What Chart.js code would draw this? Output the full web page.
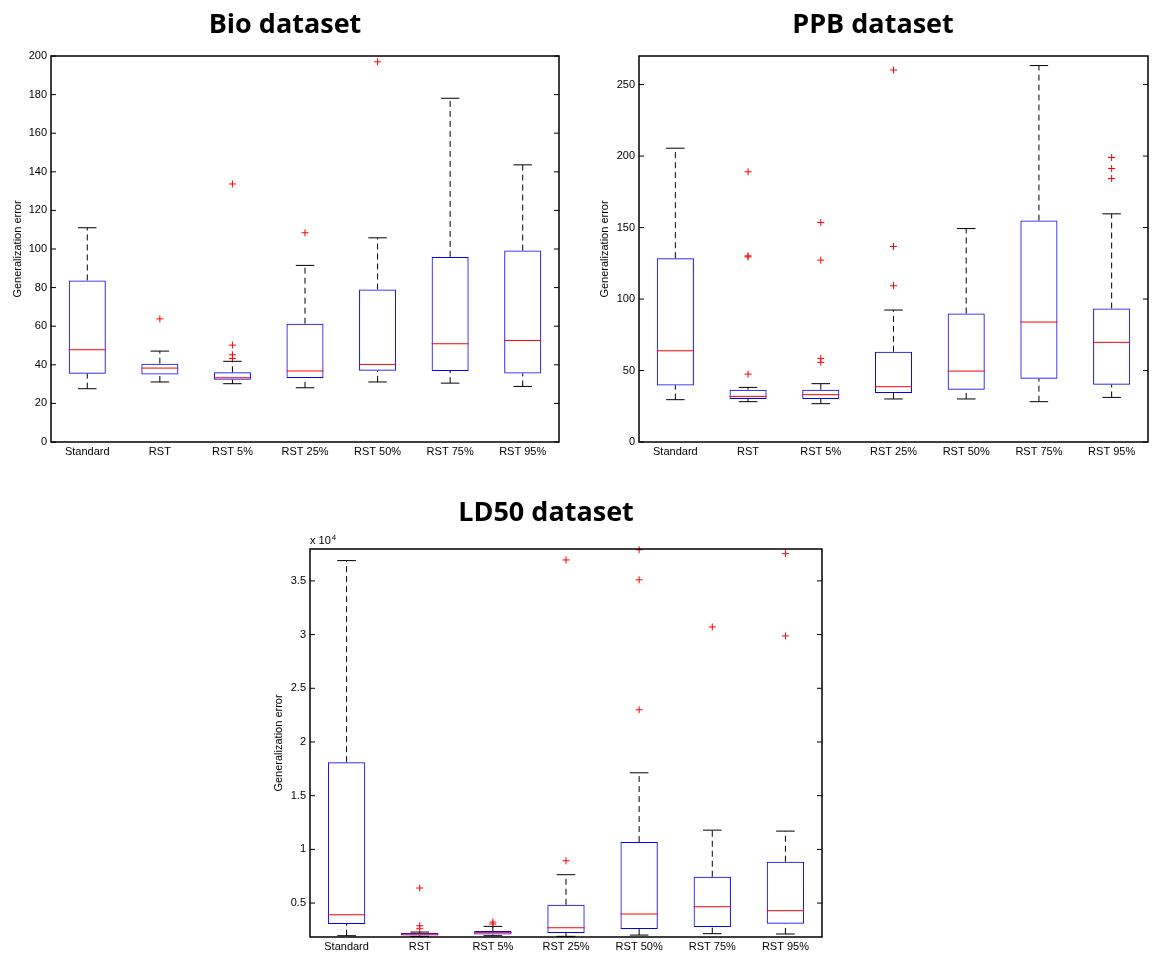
<!DOCTYPE html>
<html>
<head>
<meta charset="utf-8">
<script src="https://cdn.jsdelivr.net/npm/chart.js@4.4.1/dist/chart.umd.min.js"></script>
<style>
  html, body { margin:0; padding:0; background:#fff; }
  body { width:1154px; height:955px; overflow:hidden; position:relative; }
  .wrap { position:absolute; }
  canvas { display:block; }
</style>
</head>
<body>
<div class="wrap" style="left:11px;top:0px;"><canvas id="bio" width="559" height="462"></canvas></div>
<div class="wrap" style="left:598px;top:0px;"><canvas id="ppb" width="560" height="462"></canvas></div>
<div class="wrap" style="left:270px;top:489px;"><canvas id="ld50" width="563" height="468"></canvas></div>
<script>
// ---------- data ----------
const categories = ['Standard', 'RST', 'RST 5%', 'RST 25%', 'RST 50%', 'RST 75%', 'RST 95%'];

// Bio dataset
const bioLow  = [27.6, 31.1, 30.2, 28.1, 31.1, 30.5, 28.8];
const bioQ1   = [35.4, 35.0, 32.3, 33.1, 36.9, 36.8, 35.5];
const bioMed  = [47.8, 38.3, 33.3, 36.8, 40.2, 50.9, 52.6];
const bioQ3   = [83.7, 40.6, 36.1, 61.3, 79.0, 95.9, 99.2];
const bioHigh = [111.0, 47.1, 41.8, 91.5, 105.8, 178.1, 143.6];
const bioOutliers = [[], [63.8], [133.7, 50.2, 45.2, 43.3], [108.4], [197.0], [], []];
const bioTicks = [0, 20, 40, 60, 80, 100, 120, 140, 160, 180, 200];

// PPB dataset
const ppbLow  = [29.6, 28.2, 26.8, 30.1, 30.1, 28.2, 31.2];
const ppbQ1   = [39.6, 30.1, 30.1, 34.2, 36.6, 44.3, 40.1];
const ppbMed  = [63.8, 31.9, 33.1, 38.7, 49.6, 83.9, 69.7];
const ppbQ3   = [128.6, 36.6, 36.6, 63.1, 89.9, 154.9, 93.4];
const ppbHigh = [205.5, 38.2, 40.8, 92.3, 149.3, 263.3, 159.6];
const ppbOutliers = [[], [189.0, 130.2, 129.5, 47.5], [153.5, 127.2, 58.5, 55.7], [260.2, 136.8, 109.3], [], [], [199.0, 191.3, 184.3]];
const ppbTicks = [0, 50, 100, 150, 200, 250];

// LD50 dataset
const ld50Low  = [1960, 1900, 1960, 1900, 2020, 2150, 2120];
const ld50Q1   = [3050, 1990, 2080, 2210, 2580, 2770, 3080];
const ld50Med  = [3910, 2120, 2270, 2700, 3980, 4660, 4290];
const ld50Q3   = [18120, 2210, 2390, 4840, 10680, 7450, 8850];
const ld50High = [36890, 2300, 2830, 7640, 17130, 11790, 11700];
const ld50Outliers = [[], [6400, 2890, 2610], [3230, 3050], [36950, 8940], [37900, 35100, 23000], [30710], [37540, 29880]];
const ld50Ticks = [5000, 10000, 15000, 20000, 25000, 30000, 35000];

// ---------- drawing helpers ----------
const FONT = "'Liberation Sans', Arial, Helvetica, sans-serif";

const boxExtras = {
  id: 'boxExtras',
  afterDatasetsDraw(chart, args, o) {
    const { ctx, chartArea: a, scales: { x, y } } = chart;
    const meta = chart.getDatasetMeta(0);
    const seg = (x1, y1, x2, y2) => { ctx.beginPath(); ctx.moveTo(x1, y1); ctx.lineTo(x2, y2); ctx.stroke(); };
    ctx.save();
    o.low.forEach((lo, i) => {
      const cx = x.getPixelForValue(i);
      const hw = meta.data[i].width / 2;
      const pLo = y.getPixelForValue(lo), pQ1 = y.getPixelForValue(o.q1[i]);
      const pMed = y.getPixelForValue(o.med[i]), pQ3 = y.getPixelForValue(o.q3[i]);
      const pHi = y.getPixelForValue(o.high[i]);
      ctx.lineWidth = 1;
      ctx.strokeStyle = '#000';
      ctx.setLineDash([6, 4]);
      seg(cx, pQ3, cx, pHi);
      seg(cx, pLo, cx, pQ1);
      ctx.setLineDash([]);
      seg(cx - hw / 2, pHi, cx + hw / 2, pHi);
      seg(cx - hw / 2, pLo, cx + hw / 2, pLo);
      ctx.strokeStyle = '#ff0000';
      seg(cx - hw, pMed, cx + hw, pMed);
    });
    // axes box
    ctx.strokeStyle = '#000';
    ctx.lineWidth = 1.5;
    ctx.strokeRect(a.left, a.top, a.right - a.left, a.bottom - a.top);
    ctx.lineWidth = 1;
    y.ticks.forEach(t => {
      const py = y.getPixelForValue(t.value);
      seg(a.left, py, a.left + 5, py);
      seg(a.right - 5, py, a.right, py);
    });
    if (o.exponent) {
      ctx.fillStyle = '#000';
      ctx.textBaseline = 'alphabetic';
      ctx.textAlign = 'left';
      ctx.font = "11px " + FONT;
      const base = 'x 10';
      ctx.fillText(base, a.left, a.top - 5);
      const w = ctx.measureText(base).width;
      ctx.font = "8px " + FONT;
      ctx.fillText(o.exponent, a.left + w + 1, a.top - 9);
    }
    ctx.restore();
  }
};

function makeChart(id, title, low, q1, med, q3, high, outliers, ticks, ymin, ymax, opts) {
  const outlierPoints = [];
  outliers.forEach((arr, i) => arr.forEach(v => outlierPoints.push({ x: categories[i], y: v })));
  return new Chart(document.getElementById(id), {
    type: 'bar',
    data: {
      labels: categories,
      datasets: [
        {
          type: 'bar',
          data: q1.map((v, i) => [v, q3[i]]),
          backgroundColor: 'rgba(0,0,0,0)',
          borderColor: '#0000ff',
          borderWidth: 1,
          borderSkipped: false,
          categoryPercentage: 1,
          barPercentage: 0.51
        },
        {
          type: 'scatter',
          data: outlierPoints,
          pointStyle: 'cross',
          pointRadius: 3.5,
          borderColor: '#ff0000',
          backgroundColor: '#ff0000',
          borderWidth: 1,
          clip: false
        }
      ]
    },
    options: {
      responsive: false,
      animation: false,
      events: [],
      layout: { autoPadding: false, padding: { left: 0, right: opts.padRight, top: 0, bottom: 0 } },
      plugins: {
        legend: { display: false },
        tooltip: { enabled: false },
        title: {
          display: true,
          text: title,
          color: '#000',
          font: { family: "'Open Sans', sans-serif", size: 27, weight: 'bold', lineHeight: 1.2 },
          padding: { top: opts.titleTop, bottom: opts.titleBottom }
        },
        boxExtras: { low, q1, med, q3, high, exponent: opts.exponent || null }
      },
      scales: {
        x: {
          type: 'category',
          offset: true,
          grid: { display: false, drawTicks: false },
          border: { display: false },
          ticks: { color: '#000', font: { family: FONT, size: 11 }, padding: 3, maxRotation: 0, autoSkip: false },
          afterFit: s => { s.height = 20; }
        },
        y: {
          type: 'linear',
          min: ymin,
          max: ymax,
          grid: { display: false, drawTicks: false },
          border: { display: false },
          afterBuildTicks: s => { s.ticks = ticks.map(v => ({ value: v })); },
          ticks: {
            color: '#000',
            font: { family: FONT, size: 11 },
            padding: 4,
            callback: opts.tickFmt || (v => String(v))
          },
          title: {
            display: true,
            text: 'Generalization error',
            color: '#000',
            font: { family: FONT, size: 11 },
            padding: { top: opts.yTitlePad, bottom: 0 }
          },
          afterFit: s => { s.width = opts.yWidth; }
        }
      }
    },
    plugins: [boxExtras]
  });
}

makeChart('bio', 'Bio dataset', bioLow, bioQ1, bioMed, bioQ3, bioHigh, bioOutliers, bioTicks, 0, 200,
  { padRight: 11, titleTop: 9, titleBottom: 14.6, yTitlePad: 0, yWidth: 40 });
makeChart('ppb', 'PPB dataset', ppbLow, ppbQ1, ppbMed, ppbQ3, ppbHigh, ppbOutliers, ppbTicks, 0, 270,
  { padRight: 10, titleTop: 9, titleBottom: 14.6, yTitlePad: 0, yWidth: 41 });
makeChart('ld50', 'LD50 dataset', ld50Low, ld50Q1, ld50Med, ld50Q3, ld50High, ld50Outliers, ld50Ticks, 1840, 37970,
  { padRight: 11, titleTop: 8.5, titleBottom: 19.1, yTitlePad: 1.9, yWidth: 40, exponent: '4',
    tickFmt: v => String(v / 10000) });
</script>
</body>
</html>
